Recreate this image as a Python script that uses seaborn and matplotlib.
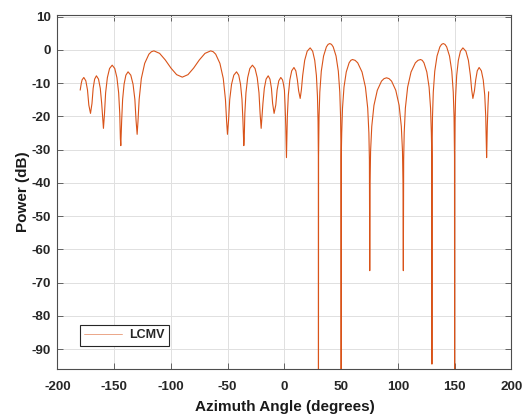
import matplotlib
matplotlib.use("Agg")
import matplotlib.pyplot as plt
import seaborn as sns
import numpy as np
import pandas as pd

# Azimuth angles (deg) and power (dB)
angles_left = [-180, -179, -178.3, -176.8, -175.03, -173.56, -172.38, -170.9, -169.6, -168.56,
               -167.26, -165.7, -163.84, -162.29, -161.05, -159.5, -158.58, -157.58, -156.04, -154.11,
               -151.8, -149.52, -147.62, -146.1, -145.11, -144.58, -144.2, -143.43, -142.6, -141.32,
               -139.72, -137.8, -135.4, -133.4, -131.8, -130.76, -129.8, -129.06, -128.02, -126.1,
               -123.14, -119.44, -117.2, -115, -110, -105, -100, -95, -90, -85,
               -80, -75, -70, -65, -62.8, -60.56, -56.86, -53.9, -51.98, -50.94,
               -50.2, -49.24, -48.2, -46.6, -44.6, -42.2, -40.28, -38.68, -37.4, -36.57,
               -35.8, -35.42, -34.89, -33.9, -32.38, -30.48, -28.2, -25.89, -23.96, -22.42,
               -21.42, -20.5, -18.95, -17.71, -16.16, -14.3, -12.74, -11.44, -10.4, -9.1,
               -7.62, -6.44, -4.97, -3.2, -1.7, -1.0, 0]
power_left = [-12.1, -10.0, -9.0, -8.3, -9.3, -12.05, -16.6, -19.1, -16.1, -11.55,
              -8.8, -7.8, -8.8, -11.55, -16.1, -23.6, -19.2, -12.9, -8.35, -5.6,
              -4.6, -5.6, -8.35, -12.9, -19.2, -26.7, -28.8, -21.2, -14.9, -10.35,
              -7.6, -6.6, -7.6, -10.35, -14.9, -21.2, -25.4, -21.5, -14.9, -8.6,
              -4.05, -1.3, -0.55, -0.3, -1.05, -3.03, -5.47, -7.45, -8.2, -7.45,
              -5.47, -3.03, -1.05, -0.3, -0.55, -1.3, -4.05, -8.6, -14.9, -21.5,
              -25.4, -21.2, -14.9, -10.35, -7.6, -6.6, -7.6, -10.35, -14.9, -21.2,
              -28.8, -26.7, -19.2, -12.9, -8.35, -5.6, -4.6, -5.6, -8.35, -12.9,
              -19.2, -23.6, -16.1, -11.55, -8.8, -7.8, -8.8, -11.55, -16.1, -19.1,
              -16.6, -12.05, -9.3, -8.3, -9.0, -10.0, -12.1]

angles_right = [0.6, 1.2, 1.55, 1.8, 2.13, 2.59, 3.45, 4.77, 6.42, 8.4,
                10.05, 11.43, 12.53, 13.9, 14.96, 16.1, 17.86, 20.06, 22.7, 24.89,
                26.72, 28.18, 29.12, 29.64, 29.9, 30, 30.1, 30.5, 31.2, 32.5,
                34.5, 37, 38.5, 40, 41.5, 43, 45.5, 47.5, 48.8, 49.5,
                49.9, 50, 50.1, 50.5, 51.2, 52.5, 54.5, 57, 58.5, 60,
                62.3, 64.6, 68.4, 71.4, 73.4, 74.44, 74.9, 75.2, 75.5, 75.94,
                76.98, 78.9, 81.86, 85.56, 87.8, 90, 92.2, 94.44, 98.14, 101.1,
                103.02, 104.06, 104.5, 104.8, 105.1, 105.56, 106.6, 108.6, 111.6, 115.4,
                117.7, 120, 121.5, 123, 125.5, 127.5, 128.8, 129.5, 129.9, 130,
                130.1, 130.5, 131.2, 132.5, 134.5, 137, 138.5, 140, 141.5, 143,
                145.5, 147.5, 148.8, 149.5, 149.9, 150, 150.1, 150.36, 150.88, 151.82,
                153.28, 155.11, 157.3, 159.94, 162.14, 163.9, 165.04, 166.1, 167.47, 168.57,
                169.95, 171.6, 173.58, 175.23, 176.55, 177.41, 177.87, 178.2, 178.45, 178.8,
                179.4, 180]
power_right = [-16.9, -22.9, -29.0, -32.4, -27.4, -19.9, -13.6, -9.05, -6.3, -5.3,
               -6.3, -9.05, -12.3, -14.6, -12.0, -7.7, -3.15, -0.4, 0.6, -0.4,
               -3.15, -7.7, -14.0, -21.5, -32, -120, -32, -20.2, -12.7, -6.4,
               -1.85, 0.9, 1.65, 1.9, 1.65, 0.9, -1.85, -6.4, -12.7, -20.2,
               -32, -110, -32, -25.0, -17.5, -11.2, -6.65, -3.9, -3.15, -2.9,
               -3.15, -3.9, -6.65, -11.2, -17.5, -25.0, -33, -66.4, -40, -30.5,
               -23.0, -16.7, -12.15, -9.4, -8.65, -8.4, -8.65, -9.4, -12.15, -16.7,
               -23.0, -30.5, -40, -66.4, -33, -25.0, -17.5, -11.2, -6.65, -3.9,
               -3.15, -2.9, -3.15, -3.9, -6.65, -11.2, -17.5, -25.0, -32, -94.5,
               -32, -20.2, -12.7, -6.4, -1.85, 0.9, 1.65, 1.9, 1.65, 0.9,
               -1.85, -6.4, -12.7, -20.2, -32, -115, -32, -21.5, -14.0, -7.7,
               -3.15, -0.4, 0.6, -0.4, -3.15, -7.7, -12.0, -14.6, -12.3, -9.05,
               -6.3, -5.3, -6.3, -9.05, -13.6, -19.9, -27.4, -32.4, -29.0, -22.9,
               -16.9, -12.6]

x_ticks = [-200, -150, -100, -50, 0, 50, 100, 150, 200]
y_ticks = [-90, -80, -70, -60, -50, -40, -30, -20, -10, 0, 10]
series_label = "LCMV"

df = pd.DataFrame({
    "angle": angles_left + angles_right,
    "power": power_left + power_right,
})

sns.set_style("ticks")
plt.rcParams["font.family"] = ["Liberation Sans", "DejaVu Sans"]
plt.rcParams["axes.unicode_minus"] = False

fig = plt.figure(figsize=(5.25, 4.18), dpi=100)
ax = fig.add_axes([0.1095, 0.117, 0.8645, 0.848])

sns.lineplot(data=df, x="angle", y="power", ax=ax, color="#D95319",
             linewidth=0.8, estimator=None, sort=False, label=series_label)

ax.set_xlim(-200, 200)
ax.set_ylim(-96, 10.6)
ax.set_xticks(x_ticks)
ax.set_yticks(y_ticks)
ax.grid(True, color="#E0E0E0", linewidth=0.7)
ax.set_axisbelow(True)

for s in ax.spines.values():
    s.set_visible(True)
    s.set_color("#4D4D4D")
    s.set_linewidth(0.8)

ax.tick_params(direction="in", top=True, right=True, length=4, width=0.6,
               color="#4D4D4D", labelsize=9.7, labelcolor="#262626")
ax.tick_params(axis="x", pad=8.5)
ax.tick_params(axis="y", pad=5)
for lab in ax.get_xticklabels() + ax.get_yticklabels():
    lab.set_fontweight("bold")

ax.set_xlabel("Azimuth Angle (degrees)", fontsize=11, fontweight="bold", color="#1A1A1A", labelpad=5)
ax.set_ylabel("Power (dB)", fontsize=11, fontweight="bold", color="#1A1A1A", labelpad=1)

leg = ax.legend(loc="lower left", bbox_to_anchor=(0.0496, 0.0658), borderaxespad=0,
                fancybox=False, framealpha=1, edgecolor="#262626", handlelength=3.0,
                prop={"weight": "bold", "size": 9}, borderpad=0.35, handletextpad=0.6)
leg.get_frame().set_linewidth(0.8)
for h in leg.get_lines():
    h.set_linewidth(0.6)
    h.set_alpha(0.6)

fig.savefig("out.png", dpi=100)
